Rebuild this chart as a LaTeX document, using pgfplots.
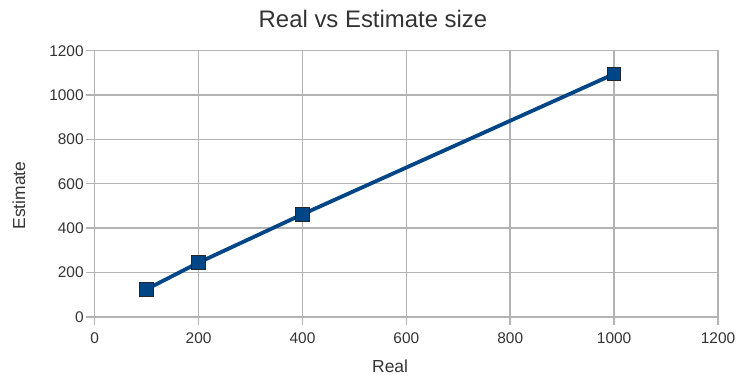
\documentclass[border=0pt]{standalone}
\usepackage{fontspec}
\setmainfont{Liberation Sans}
\usepackage{pgfplots}
\pgfplotsset{compat=1.18}
\definecolor{lobl}{HTML}{004586}
\definecolor{gridc}{HTML}{B3B3B3}
\definecolor{txt}{HTML}{333333}
\begin{document}
\begin{tikzpicture}
\path[use as bounding box] (-94.7bp,-61.3bp) rectangle (641.3bp,316.7bp);
\begin{axis}[
  at={(0,0)}, anchor=south west,
  scale only axis,
  width=623.3bp, height=266bp,
  xmin=0, xmax=1200, ymin=0, ymax=1200,
  xtick={0,200,...,1200}, ytick={0,200,...,1200},
  grid=major,
  major grid style={gridc, line width=1.6bp},
  axis line style={gridc, line width=1.6bp},
  tick style={gridc, line width=1.6bp},
  tick align=outside,
  major tick length=8.5bp,
  xtick pos=bottom, ytick pos=left,
  /pgf/number format/assume math mode=true,
  /pgf/number format/1000 sep={},
  ticklabel style={font=\fontsize{15.5}{18}\selectfont, text=txt},
  xticklabel style={anchor=north, yshift=-4bp},
  yticklabel style={anchor=east, xshift=1bp},
  title={Real vs Estimate size},
  title style={font=\fontsize{24}{28}\selectfont, text=txt,
    at={(axis description cs:0.4465,1)}, anchor=base, yshift=17.7bp},
  xlabel={Real}, ylabel={Estimate},
  label style={font=\fontsize{17.5}{20}\selectfont, text=txt},
  xlabel style={at={(axis description cs:0.474,0)}, anchor=base, yshift=-56bp},
  ylabel style={at={(axis description cs:0,0.4556)}, anchor=center, yshift=75.7bp},
]
\addplot[lobl, line width=3.8bp, mark=square*, mark size=6.8bp,
  mark options={fill=lobl, draw=black!85, line width=1bp}]
  coordinates {(100,124) (200,244) (400,462) (1000,1095)};
\end{axis}
\end{tikzpicture}
\end{document}
